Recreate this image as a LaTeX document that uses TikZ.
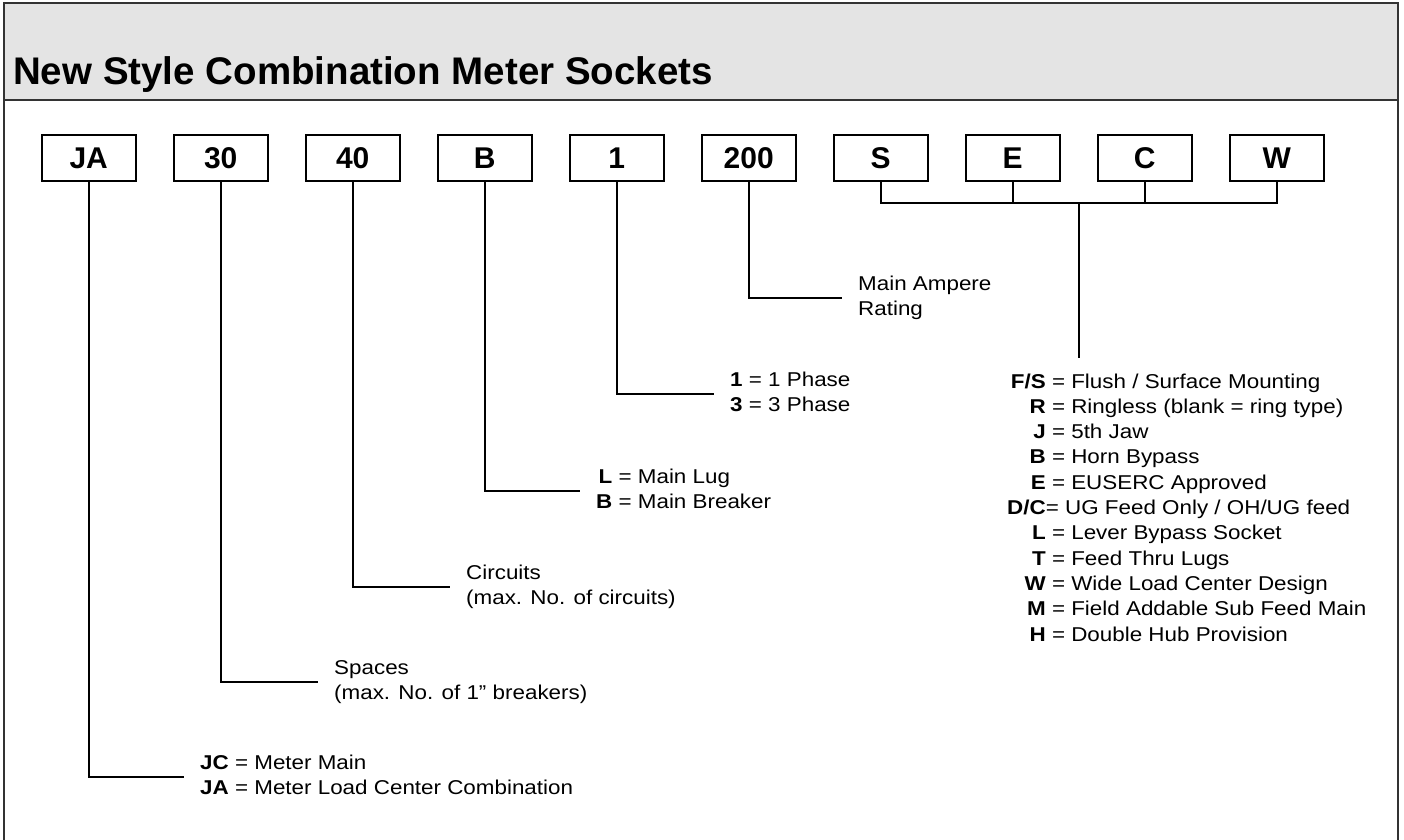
\documentclass[tikz,border=0pt]{standalone}
\usepackage{fontspec}
\setmainfont{Liberation Sans}[FakeStretch=1.12]
\newfontfamily\boxfont{Liberation Sans}[FakeStretch=1.0]
\newfontfamily\titlefont{Liberation Sans}[FakeStretch=1.0]
\usetikzlibrary{calc}
\definecolor{hdrgray}{HTML}{E4E4E4}
\definecolor{framegray}{HTML}{333333}
\begin{document}
\begin{tikzpicture}[x=1pt,y=-1pt,
  codebox/.style={draw=black, line width=2pt, minimum width=94pt, minimum height=46pt, inner sep=0pt, fill=white,
    font=\boxfont\bfseries\fontsize{30}{31}\selectfont},
  conn/.style={line width=1.6pt, black},
  lbl/.style={anchor=west, inner sep=0pt, font=\fontsize{20}{25}\selectfont},
  framepen/.style={line width=1.2pt, draw=framegray}]
\useasboundingbox (0,0) rectangle (1404,839);
% header and frame
\fill[hdrgray] (4,3) rectangle (1398,100);
\draw[framepen] (4,100) -- (1398,100);
\draw[framepen] (4,860) -- (4,3) -- (1398,3) -- (1398,860);
\node[anchor=base west, inner sep=0pt, font=\titlefont\bfseries\fontsize{38.5}{40}\selectfont] (title) at (13,84) {New Style Combination Meter Sockets};
% code boxes
\foreach \n/\t [count=\i from 0] in {bJA/JA,b30/30,b40/40,bB/B,b1/1,b200/200,bS/S,bE/E,bC/C,bW/W}{
  \node[codebox] (\n) at ({88.7+132*\i},158) {\t};
}
% labels
\node[lbl] (tJA) at (200,777) {\begin{tabular}{@{}r@{}l@{}}\textbf{JC}&\ = Meter Main\\ \textbf{JA}&\ = Meter Load Center Combination\end{tabular}};
\node[lbl] (t30) at (334,682) {\begin{tabular}{@{}l@{}}Spaces\\ (max. No. of 1” breakers)\end{tabular}};
\node[lbl] (t40) at (466,587) {\begin{tabular}{@{}l@{}}Circuits\\ (max. No. of circuits)\end{tabular}};
\node[lbl] (tB) at (596,491) {\begin{tabular}{@{}r@{}l@{}}\textbf{L}&\ = Main Lug\\ \textbf{B}&\ = Main Breaker\end{tabular}};
\node[lbl] (t1) at (730,394) {\begin{tabular}{@{}r@{}l@{}}\textbf{1}&\ = 1 Phase\\ \textbf{3}&\ = 3 Phase\end{tabular}};
\node[lbl] (t200) at (858,298) {\begin{tabular}{@{}l@{}}Main Ampere\\ Rating\end{tabular}};
\node[anchor=base west, inner sep=0pt, font=\fontsize{20}{25.3}\selectfont] (tFS) at (1007,388) {\begin{tabular}[t]{@{}r@{}l@{}}
\textbf{F/S}&\ = Flush / Surface Mounting\\
\textbf{R}&\ = Ringless (blank = ring type)\\
\textbf{J}&\ = 5th Jaw\\
\textbf{B}&\ = Horn Bypass\\
\textbf{E}&\ = EUSERC Approved\\
\textbf{D/C}&= UG Feed Only / OH/UG feed\\
\textbf{L}&\ = Lever Bypass Socket\\
\textbf{T}&\ = Feed Thru Lugs\\
\textbf{W}&\ = Wide Load Center Design\\
\textbf{M}&\ = Field Addable Sub Feed Main\\
\textbf{H}&\ = Double Hub Provision
\end{tabular}};
% connectors
\foreach \b/\t in {bJA/tJA,b30/t30,b40/t40,bB/tB,b1/t1,b200/t200}{
  \draw[conn] (\b.south) |- ([xshift=-16pt]\t.west);
}
\coordinate (bar) at (1078.7,203);
\coordinate (fsTop) at (1078.7,358);
\draw[conn] (bS.south) -- (bS.south |- bar) -- (bW.south |- bar) -- (bW.south);
\draw[conn] (bE.south) -- (bE.south |- bar);
\draw[conn] (bC.south) -- (bC.south |- bar);
\draw[conn] (bar) -- (fsTop);
\end{tikzpicture}
\end{document}
